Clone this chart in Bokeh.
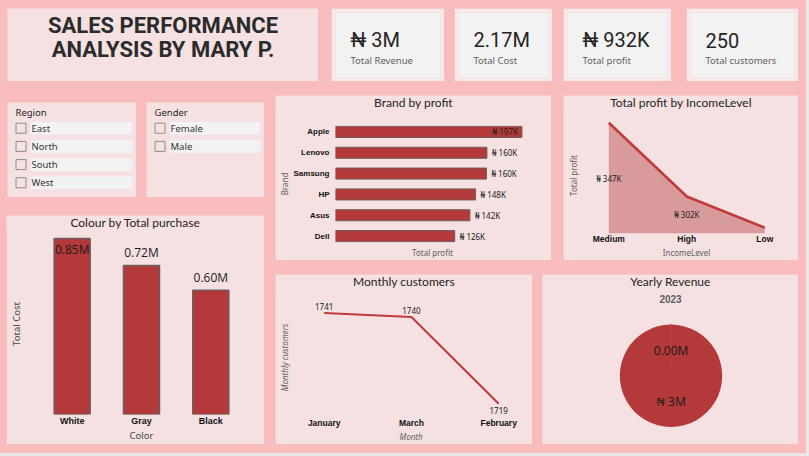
import math
from bokeh.plotting import figure
from bokeh.models import Range1d, FactorRange, FixedTicker
from bokeh.layouts import row, column
from bokeh.core.properties import value
from bokeh.embed import file_html
from bokeh.resources import INLINE

# ---------------- data ----------------
dashboard_title = ["SALES PERFORMANCE", "ANALYSIS BY MARY P."]
kpi_values = ["₦ 3M", "2.17M", "₦ 932K", "250"]
kpi_labels = ["Total Revenue", "Total Cost", "Total profit", "Total customers"]

region_items = ["East", "North", "South", "West"]
gender_items = ["Female", "Male"]

brands = ["Apple", "Lenovo", "Samsung", "HP", "Asus", "Dell"]
brand_profit = [197000, 160000, 159500, 148000, 142000, 126000]

income_levels = ["Medium", "High", "Low"]
income_profit = [347000, 302000, 283000]

colours = ["White", "Gray", "Black"]
colour_cost = [850000, 720000, 600000]

months = ["January", "March", "February"]
monthly_customers = [1741, 1740, 1719]

pie_year = "2023"
pie_values = [2000, 2998000]
pie_labels = ["0.00M", "₦ 3M"]

# ---------------- style ----------------
BG = "#f8bcbc"
OUTER = "#e9e7e7"
PANEL = "#f5e1e2"
BAR = "#b3393a"
EDGE = "#6f5e5e"
LINE = "#c0393b"
TXT = "#252423"
GREY = "#605e5c"
SANS = "Noto Sans"
BOLD = "Liberation Sans"
HEAD = "Lato"


def naira_k(v):
    return f"₦ {v / 1000:.0f}K"


def panel_fig(w, h, x_range, y_range, left=0, right=0, top=0, bottom=0, fill=PANEL):
    p = figure(width=w, height=h, x_range=x_range, y_range=y_range,
               output_backend="svg", toolbar_location=None)
    p.border_fill_color = fill
    p.background_fill_color = fill
    p.outline_line_color = fill
    p.outline_line_width = 1
    p.xgrid.visible = False
    p.ygrid.visible = False
    p.title.visible = False
    p.min_border_left = left
    p.min_border_right = right
    p.min_border_top = top
    p.min_border_bottom = bottom
    return p


def header(w, h, lines):
    """lines: list of (text, y, size, font, style, color)"""
    p = panel_fig(w, h, Range1d(0, w), Range1d(h, 0))
    p.outline_line_color = None
    p.axis.visible = False
    for text, y, size, font, style, color in lines:
        p.text(x=[w / 2], y=[y], text=[text], text_align="center", text_baseline="middle",
               text_font=value(font), text_font_size=size, text_font_style=style,
               text_color=color)
    return p


def chart_title(w, h, text, y):
    return header(w, h, [(text, y, "12px", HEAD, "normal", TXT)])


def cat_axis(ax, size="8.5px", standoff=4):
    ax.axis_line_color = None
    ax.major_tick_line_color = None
    ax.minor_tick_line_color = None
    ax.major_tick_out = 0
    ax.major_tick_in = 0
    ax.major_label_standoff = standoff
    ax.major_label_text_font = BOLD
    ax.major_label_text_font_style = "bold"
    ax.major_label_text_font_size = size
    ax.major_label_text_color = "#111111"
    ax.major_label_text_line_height = 1.0


def title_axis(ax, label, size="8px", standoff=2, style="normal", color=GREY):
    ax.axis_label = label
    ax.axis_label_text_font = SANS
    ax.axis_label_text_font_size = size
    ax.axis_label_text_font_style = style
    ax.axis_label_text_color = color
    ax.axis_label_standoff = standoff
    ax.axis_label_text_line_height = 1.0


def blank_axis(ax):
    ax.ticker = FixedTicker(ticks=[])
    ax.axis_line_color = None
    ax.major_tick_line_color = None
    ax.minor_tick_line_color = None
    ax.major_tick_out = 0
    ax.major_tick_in = 0
    ax.major_label_standoff = 0


# ---------------- header row ----------------
title_fig = panel_fig(311, 73, Range1d(0, 311), Range1d(73, 0))
title_fig.outline_line_color = None
title_fig.axis.visible = False
title_fig.text(x=[155.5, 155.5], y=[17, 41], text=dashboard_title,
               text_align="center", text_baseline="middle",
               text_font=value("Roboto"), text_font_size="22px",
               text_font_style="bold", text_color="#2b2b2b")

card_widths = [113, 98, 108, 112]
cards = []
for w, v, lab in zip(card_widths, kpi_values, kpi_labels):
    c = panel_fig(w, 73, Range1d(0, w - 8), Range1d(65, 0),
                  left=4, right=4, top=4, bottom=4, fill="#f6e9e9")
    c.background_fill_color = "#f3f2f2"
    c.outline_line_color = None
    c.axis.visible = False
    c.text(x=[15], y=[27.5], text=[v], text_baseline="middle",
           text_font=value("Roboto"), text_font_size="20px", text_color=TXT)
    c.text(x=[15], y=[47.7], text=[lab], text_baseline="middle",
           text_font=value(SANS), text_font_size="9.5px", text_color=GREY)
    cards.append(c)


# ---------------- slicers ----------------
def slicer(w, head, items):
    p = panel_fig(w, 95, Range1d(0, w), Range1d(95, 0))
    p.outline_line_color = None
    p.axis.visible = False
    p.text(x=[8], y=[9.7], text=[head], text_baseline="middle",
           text_font=value(SANS), text_font_size="9.5px", text_color=TXT)
    ys = [25.7 + 18.2 * i for i in range(len(items))]
    p.quad(left=23, right=w - 4, top=[y - 6.3 for y in ys], bottom=[y + 6.3 for y in ys],
           fill_color="#f3f2f2", line_color=None)
    p.quad(left=8.5, right=18.5, top=[y - 5 for y in ys], bottom=[y + 5 for y in ys],
           fill_color=None, line_color="#8f8a8a", line_width=1)
    p.text(x=24, y=ys, text=items, text_baseline="middle",
           text_font=value(SANS), text_font_size="9.5px", text_color="#333333")
    return p


region_fig = slicer(129, "Region", region_items)
gender_fig = slicer(118, "Gender", gender_items)

# ---------------- Brand by profit ----------------
bp_head = chart_title(276, 20, "Brand by profit", 7)
bp = panel_fig(276, 146, Range1d(0, 205000), FactorRange(factors=brands[::-1]),
               left=60, right=22, top=7, bottom=14)
bp.hbar(y=brands, right=brand_profit, height=0.53, fill_color=BAR,
        line_color=EDGE, line_width=1)
inside = [v > 0.9 * bp.x_range.end for v in brand_profit]
bp.text(x=[v for v, i in zip(brand_profit, inside) if i],
        y=[b for b, i in zip(brands, inside) if i],
        text=[naira_k(v) for v, i in zip(brand_profit, inside) if i],
        text_align="right", text_baseline="middle", x_offset=-4,
        text_font=value(SANS), text_font_size="8px", text_color="#222222")
bp.text(x=[v for v, i in zip(brand_profit, inside) if not i],
        y=[b for b, i in zip(brands, inside) if not i],
        text=[naira_k(v) for v, i in zip(brand_profit, inside) if not i],
        text_align="left", text_baseline="middle", x_offset=5,
        text_font=value(SANS), text_font_size="8px", text_color="#222222")
blank_axis(bp.xaxis[0])
title_axis(bp.xaxis[0], "Total profit", standoff=0)
cat_axis(bp.yaxis[0], size="8px", standoff=6)
title_axis(bp.yaxis[0], "Brand", standoff=0)

# ---------------- Total profit by IncomeLevel ----------------
ip_head = chart_title(235, 16, "Total profit by IncomeLevel", 7)
inc_idx = list(range(len(income_levels)))
ip = panel_fig(235, 150, Range1d(-0.158, 2.15), Range1d(279400, 350200),
               left=33, right=22, top=7, bottom=25)
ip.varea(x=inc_idx, y1=[ip.y_range.start] * len(inc_idx), y2=income_profit,
         fill_color=BAR, fill_alpha=0.42)
ip.line(inc_idx, income_profit, line_color=LINE, line_width=2.5)
ip.text(x=inc_idx[:2], y=[(v + ip.y_range.start) / 2 for v in income_profit[:2]],
        text=[naira_k(v) for v in income_profit[:2]], text_align="center",
        text_baseline="middle", text_font=value(SANS), text_font_size="8px",
        text_color="#222222")
ip.xaxis.ticker = FixedTicker(ticks=inc_idx)
ip.xaxis.major_label_overrides = {i: n for i, n in zip(inc_idx, income_levels)}
cat_axis(ip.xaxis[0], size="8.5px", standoff=0)
title_axis(ip.xaxis[0], "IncomeLevel", standoff=0)
blank_axis(ip.yaxis[0])
title_axis(ip.yaxis[0], "Total profit", standoff=18)

# ---------------- Colour by Total purchase ----------------
cp_head = chart_title(258, 14, "Colour by Total purchase", 7.3)
cp = panel_fig(258, 216, FactorRange(factors=colours), Range1d(0, 874000),
               left=30, right=19, top=5, bottom=30)
cp.vbar(x=colours, top=colour_cost, width=0.52, fill_color=BAR,
        line_color=EDGE, line_width=1.5)
c_in = [v > 0.9 * cp.y_range.end for v in colour_cost]
cp.text(x=[c for c, i in zip(colours, c_in) if i],
        y=[v for v, i in zip(colour_cost, c_in) if i],
        text=[f"{v / 1e6:.2f}M" for v, i in zip(colour_cost, c_in) if i],
        text_align="center", text_baseline="top", y_offset=3,
        text_font=value("Open Sans"), text_font_size="12px", text_color="#1a1a1a")
cp.text(x=[c for c, i in zip(colours, c_in) if not i],
        y=[v for v, i in zip(colour_cost, c_in) if not i],
        text=[f"{v / 1e6:.2f}M" for v, i in zip(colour_cost, c_in) if not i],
        text_align="center", text_baseline="bottom", y_offset=-4,
        text_font=value("Open Sans"), text_font_size="12px", text_color="#1a1a1a")
cat_axis(cp.xaxis[0], size="9px", standoff=1)
title_axis(cp.xaxis[0], "Color", size="9.5px", standoff=0, color="#444444")
blank_axis(cp.yaxis[0])
title_axis(cp.yaxis[0], "Total Cost", size="9.5px", standoff=15, color="#444444")

# ---------------- Monthly customers ----------------
mp_head = chart_title(257, 20, "Monthly customers", 7)
m_idx = list(range(len(months)))
mp = panel_fig(257, 151, Range1d(-0.26, 2.25), Range1d(1716.4, 1744.0),
               left=25, right=12, top=7, bottom=29)
mp.line(m_idx, monthly_customers, line_color=LINE, line_width=2)
m_low = [v == min(monthly_customers) for v in monthly_customers]
mp.text(x=[i for i, lo in zip(m_idx, m_low) if not lo],
        y=[v for v, lo in zip(monthly_customers, m_low) if not lo],
        text=[str(v) for v, lo in zip(monthly_customers, m_low) if not lo],
        text_align="center", text_baseline="bottom", y_offset=-3,
        text_font=value(SANS), text_font_size="8px", text_color="#222222")
mp.text(x=[i for i, lo in zip(m_idx, m_low) if lo],
        y=[v for v, lo in zip(monthly_customers, m_low) if lo],
        text=[str(v) for v, lo in zip(monthly_customers, m_low) if lo],
        text_align="center", text_baseline="top", y_offset=3,
        text_font=value(SANS), text_font_size="8px", text_color="#222222")
mp.xaxis.ticker = FixedTicker(ticks=m_idx)
mp.xaxis.major_label_overrides = {i: n for i, n in zip(m_idx, months)}
cat_axis(mp.xaxis[0], size="8.5px", standoff=3)
title_axis(mp.xaxis[0], "Month", standoff=0, style="italic")
blank_axis(mp.yaxis[0])
title_axis(mp.yaxis[0], "Monthly customers", standoff=12, style="italic")

# ---------------- Yearly Revenue (pie) ----------------
yp_head = header(256, 36, [("Yearly Revenue", 7, "12px", HEAD, "normal", TXT),
                           (pie_year, 24.3, "10px", BOLD, "bold", GREY)])
yp = panel_fig(256, 135, Range1d(-2.51, 2.49), Range1d(-1.342, 1.2945))
yp.outline_line_color = None
yp.axis.visible = False
total = sum(pie_values)
cum = 0.0
starts, ends, lx, ly = [], [], [], []
for v in pie_values:
    a0 = math.pi / 2 - 2 * math.pi * cum / total
    cum += v
    a1 = math.pi / 2 - 2 * math.pi * cum / total
    starts.append(a1)
    ends.append(a0)
    mid = (a0 + a1) / 2
    lx.append(0.5 * math.cos(mid))
    ly.append(0.5 * math.sin(mid))
yp.wedge(x=0, y=0, radius=1, start_angle=starts, end_angle=ends,
         fill_color=["#d9605f", BAR], line_color=["#dd6464", BAR],
         line_alpha=[1, 0], line_width=1)
yp.text(x=lx, y=ly, text=pie_labels, text_align="center", text_baseline="middle",
        text_font=value("Open Sans"), text_font_size="12px", text_color="#1a1a1a")


# ---------------- layout ----------------
def box(figs, top, left):
    # each figure in its own column so Bokeh does not align their frames;
    # following figures overlap the previous one by 1px to hide the seam
    wrapped = []
    for k, f in enumerate(figs):
        w = column(f)
        if k > 0:
            w.margin = (-1, 0, 0, 0)
        wrapped.append(w)
    c = column(*wrapped)
    c.margin = (top, 0, 0, left)
    return c


top_row = row(box([title_fig], 8, 7),
              *[box([c], 8, ml) for c, ml in zip(cards, [13, 10, 11, 15])])
top_row.margin = (0, 8, 0, 0)

slicer_row = row(box([region_fig], 21, 1), box([gender_fig], 21, 10))
left_col = column(slicer_row, box([cp_head, cp], 18, 0))
left_col.margin = (0, 0, 0, 6)

right_col = column(row(box([bp_head, bp], 14, 0), box([ip_head, ip], 14, 12)),
                   row(box([mp_head, mp], 14, 0), box([yp_head, yp], 14, 10)))
right_col.margin = (0, 8, 9, 11)
bottom_row = row(left_col, right_col)

inner = column(top_row, bottom_row, width=806, height=453,
               styles={"background-color": BG})
inner.margin = (0, 3, 3, 0)
outer = column(inner, width=809, height=456, styles={"background-color": OUTER})

open("out.html", "w").write(file_html(outer, INLINE))
